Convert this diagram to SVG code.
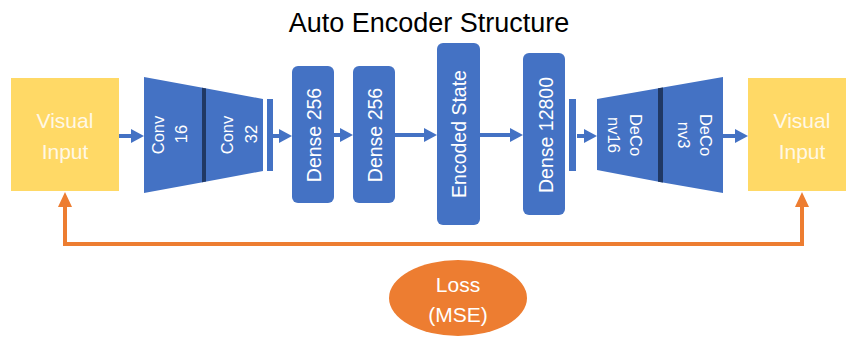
<svg xmlns="http://www.w3.org/2000/svg" width="846" height="337" viewBox="0 0 846 337">
<style>
.in{fill:#FFD966}
.in-t{font-family:"Liberation Sans",Arial,sans-serif;font-size:21px;fill:#FFF8E6;text-anchor:middle}
.blk{fill:#4472C4}
.div{fill:#203864}
.lbl{font-family:"Liberation Sans",Arial,sans-serif;fill:#FFFFFF;text-anchor:middle}
.s16{font-size:16.5px}
.s19{font-size:19.5px}
.ba{stroke:#4472C4;stroke-width:4;fill:none}
.oa{stroke:#ED7D31;stroke-width:4;fill:none}
.title{font-family:"Liberation Sans",Arial,sans-serif;font-size:27px;fill:#000;text-anchor:middle}
</style>
<defs>
<marker id="bh" markerUnits="userSpaceOnUse" markerWidth="13" markerHeight="14" refX="0" refY="7" orient="auto">
<path d="M0,0 L13,7 L0,14 z" fill="#4472C4"/>
</marker>
<marker id="oh" markerUnits="userSpaceOnUse" markerWidth="15" markerHeight="14" refX="0" refY="7" orient="auto-start-reverse">
<path d="M0,0 L15,7 L0,14 z" fill="#ED7D31"/>
</marker>
</defs>
<rect width="846" height="337" fill="#FFFFFF"/>
<text class="title" x="429" y="32">Auto Encoder Structure</text>

<g id="connectors">
<line class="ba" x1="119" y1="136" x2="131" y2="136" marker-end="url(#bh)"/>
<line class="ba" x1="273" y1="136" x2="279" y2="136" marker-end="url(#bh)"/>
<line class="ba" x1="334" y1="135" x2="340" y2="135" marker-end="url(#bh)"/>
<line class="ba" x1="395" y1="135" x2="424" y2="135" marker-end="url(#bh)"/>
<line class="ba" x1="480" y1="135" x2="510" y2="135" marker-end="url(#bh)"/>
<line class="ba" x1="577" y1="136" x2="584" y2="136" marker-end="url(#bh)"/>
<line class="ba" x1="723" y1="136" x2="735" y2="136" marker-end="url(#bh)"/>
<polyline class="oa" points="65,207 65,244 802,244 802,207" marker-start="url(#oh)" marker-end="url(#oh)"/>
</g>

<g id="input-left">
<rect class="in" x="11" y="78" width="108" height="113"/>
<text class="in-t" x="65" y="128">Visual</text>
<text class="in-t" x="65" y="159">Input</text>
</g>

<g id="conv">
<polygon class="blk" points="144,77 204,88 204,182 144,193"/>
<polygon class="blk" points="204,88 263,99 263,171 204,182"/>
<polygon class="div" points="202,87.7 206,88.4 206,181.6 202,182.3"/>
<g transform="translate(158,135) rotate(-90)"><text class="lbl s16" x="0" y="0" dy="0.35em">Conv</text></g>
<g transform="translate(181,134) rotate(-90)"><text class="lbl s16" x="0" y="0" dy="0.35em">16</text></g>
<g transform="translate(227,135) rotate(-90)"><text class="lbl s16" x="0" y="0" dy="0.35em">Conv</text></g>
<g transform="translate(251,134) rotate(-90)"><text class="lbl s16" x="0" y="0" dy="0.35em">32</text></g>
</g>

<g id="flatten">
<rect class="blk" x="267" y="99" width="6" height="72"/>
</g>

<g id="dense1">
<rect class="blk" x="292" y="66" width="42" height="137" rx="6"/>
<g transform="translate(314,135) rotate(-90)"><text class="lbl s19" x="0" y="0" dy="0.35em">Dense 256</text></g>
</g>

<g id="dense2">
<rect class="blk" x="353" y="66" width="42" height="137" rx="6"/>
<g transform="translate(375,135) rotate(-90)"><text class="lbl s19" x="0" y="0" dy="0.35em">Dense 256</text></g>
</g>

<g id="encoded">
<rect class="blk" x="437" y="43" width="43" height="182" rx="6"/>
<g transform="translate(459,134) rotate(-90)"><text class="lbl s19" x="0" y="0" dy="0.35em">Encoded State</text></g>
</g>

<g id="dense3">
<rect class="blk" x="523" y="53" width="42" height="162" rx="6"/>
<g transform="translate(546,135) rotate(-90)"><text class="lbl s19" x="0" y="0" dy="0.35em">Dense 12800</text></g>
</g>

<g id="reshape">
<rect class="blk" x="569" y="99" width="7" height="72"/>
</g>

<g id="deconv">
<polygon class="blk" points="597,99 660,88 660,182 597,170"/>
<polygon class="blk" points="660,88 723,77 723,193 660,182"/>
<polygon class="div" points="658,88.3 663,87.5 663,182.5 658,181.7"/>
<g transform="translate(636,135) rotate(90)"><text class="lbl s16" x="0" y="0" dy="0.35em">DeCo</text></g>
<g transform="translate(614,135) rotate(90)"><text class="lbl s16" x="0" y="0" dy="0.35em">nv16</text></g>
<g transform="translate(706,135) rotate(90)"><text class="lbl s16" x="0" y="0" dy="0.35em">DeCo</text></g>
<g transform="translate(684,135) rotate(90)"><text class="lbl s16" x="0" y="0" dy="0.35em">nv3</text></g>
</g>

<g id="input-right">
<rect class="in" x="748" y="78" width="108" height="113"/>
<text class="in-t" x="802" y="128">Visual</text>
<text class="in-t" x="802" y="159">Input</text>
</g>

<g id="loss">
<ellipse cx="458" cy="298" rx="69" ry="38" fill="#ED7D31"/>
<text class="lbl" style="font-size:21px" x="458" y="292">Loss</text>
<text class="lbl" style="font-size:21px" x="458" y="322">(MSE)</text>
</g>
</svg>
